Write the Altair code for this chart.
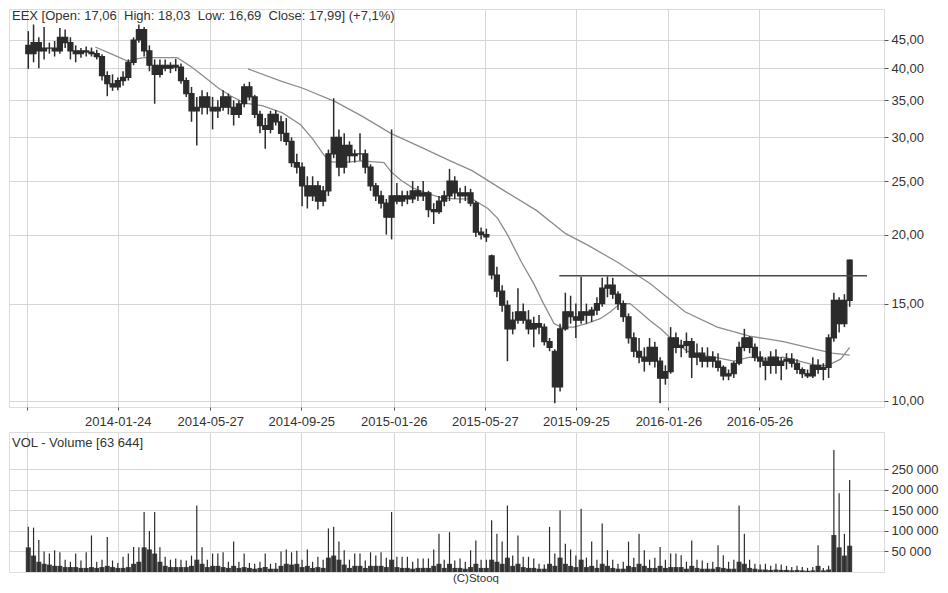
import altair as alt
import pandas as pd

FONT = "Liberation Sans"
TXT = "#333333"
GRID = "#d6d6d6"
INK = "#2b2b2b"
FS = 13

# ---------------- data (weekly bars) ----------------
first_week = "2013-09-27"

opens = [
    44.0, 42.5, 44.5, 43.0, 43.5, 43.5, 43.0, 45.5, 44.5, 43.0,
    42.5, 43.0, 42.8, 42.5, 42.0, 38.8, 37.5, 37.0, 38.0, 38.5,
    41.0, 45.0, 47.0, 43.0, 40.5, 39.0, 40.5, 40.0, 40.5, 40.2,
    38.0, 36.0, 33.5, 34.0, 35.5, 34.0, 33.5, 34.0, 35.5, 34.0,
    33.0, 34.5, 37.0, 35.5, 33.0, 31.5, 31.0, 33.0, 32.0, 30.5,
    29.5, 27.0, 26.5, 24.5, 23.5, 24.5, 23.0, 24.0, 28.0, 30.0,
    26.5, 29.0, 27.8, 28.0, 28.0, 26.5, 24.5, 23.5, 22.8, 21.5,
    23.5, 23.0, 23.5, 23.2, 24.0, 23.5, 23.8, 22.2, 22.0, 23.0,
    23.5, 25.0, 23.8, 23.5, 23.8, 22.8, 20.2, 20.0, 18.3, 16.9,
    15.8, 14.9, 13.5, 14.0, 14.5, 14.0, 13.5, 13.8, 13.6, 12.8,
    12.3, 10.6, 13.5, 14.5, 14.2, 14.0, 14.5, 14.3, 14.6, 15.0,
    16.0, 16.2, 15.6, 15.0, 14.2, 13.0, 12.3, 12.0, 11.8, 12.5,
    11.8, 11.0, 11.3, 13.0, 12.5, 12.6, 12.8, 12.0, 12.2, 11.8,
    12.0, 11.8, 11.5, 11.1, 11.2, 11.7, 12.5, 13.0, 12.5, 12.0,
    11.8, 11.6, 12.0, 11.6, 11.8, 11.9, 11.7, 11.4, 11.2, 11.1,
    11.6, 11.4, 11.5, 13.0, 15.2, 13.8, 15.2,
]
highs = [
    46.7, 48.0, 45.5, 47.5, 44.5, 44.8, 47.3, 47.0, 45.5, 44.0,
    43.5, 43.8, 43.6, 43.2, 42.4, 39.5, 39.0, 38.5, 39.5, 41.5,
    45.5, 48.0, 47.5, 44.0, 41.5, 41.5, 41.5, 41.0, 41.6, 40.8,
    38.5, 37.0, 35.5, 36.5, 36.2, 35.5, 35.0, 36.5, 36.0, 35.0,
    35.0, 37.5, 37.8, 35.8, 33.5, 32.5, 33.5, 33.6, 32.8, 32.5,
    30.0, 28.0, 27.0, 25.5, 25.5, 25.0, 24.5, 28.5, 35.3, 31.0,
    30.5, 29.5, 28.5, 30.5, 28.5, 26.8, 24.8, 24.0, 23.2, 31.0,
    24.8, 24.0, 24.0, 25.0, 24.5, 25.0, 24.0, 22.8, 23.5, 24.0,
    26.3, 25.5, 24.3, 24.5, 24.2, 23.0, 20.6, 20.5, 18.4, 17.5,
    16.2, 15.2, 14.5, 16.0, 15.0, 14.6, 14.2, 14.3, 13.8, 13.0,
    12.4, 13.8, 15.7, 15.5, 15.0, 16.8, 15.0, 14.8, 15.4, 16.7,
    16.8, 16.7, 15.8, 15.2, 14.4, 13.3, 13.0, 12.5, 13.0, 12.8,
    12.0, 11.6, 13.6, 13.3, 12.9, 13.3, 13.0, 12.7, 12.5, 12.5,
    12.3, 12.2, 11.6, 11.4, 11.8, 12.8, 13.5, 13.1, 12.7, 12.3,
    12.0, 12.3, 12.4, 12.0, 12.2, 12.2, 11.9, 11.5, 11.4, 12.0,
    11.9, 11.7, 13.2, 15.7, 15.4, 15.6, 18.03,
]
lows = [
    39.9, 41.0, 40.0, 41.5, 42.5, 42.0, 42.5, 43.5, 41.5, 41.0,
    41.8, 42.0, 42.0, 41.5, 38.0, 35.6, 36.4, 36.5, 37.2, 38.0,
    40.5, 44.5, 42.0, 39.5, 34.5, 38.5, 39.5, 39.2, 39.5, 37.5,
    35.5, 32.0, 29.0, 33.0, 33.0, 31.0, 32.5, 33.5, 33.0, 31.5,
    32.5, 34.0, 35.0, 32.5, 30.5, 28.6, 30.5, 31.5, 29.5, 29.0,
    26.5, 25.8, 22.5, 22.3, 23.0, 22.2, 22.5, 23.5, 27.5, 25.5,
    25.8, 27.0, 27.0, 27.2, 25.8, 24.0, 23.0, 22.3, 20.0, 19.6,
    22.7, 22.5, 22.7, 22.8, 23.0, 23.0, 21.5, 20.9, 21.8, 22.5,
    23.0, 23.2, 22.8, 23.0, 22.5, 19.8, 19.6, 19.4, 16.6, 15.4,
    14.5, 11.8, 13.2, 13.8, 13.8, 13.2, 12.5, 13.2, 12.6, 12.3,
    9.9, 10.4, 13.4, 13.8, 13.0, 13.8, 13.8, 13.9, 14.3, 14.8,
    15.4, 15.3, 14.6, 13.9, 12.7, 12.0, 11.7, 11.3, 11.6, 11.5,
    9.9, 10.7, 11.2, 12.2, 12.0, 12.2, 11.0, 11.6, 11.5, 11.5,
    11.5, 11.3, 10.9, 10.9, 11.0, 11.6, 12.3, 12.2, 11.8, 11.5,
    10.9, 11.2, 11.2, 10.9, 11.4, 11.5, 11.2, 11.0, 11.0, 11.0,
    11.2, 10.9, 11.0, 12.8, 13.3, 13.6, 14.8,
]
closes = [
    42.5, 44.5, 43.0, 43.5, 43.5, 43.0, 45.5, 44.5, 43.0, 42.5,
    43.0, 42.8, 42.5, 42.0, 38.8, 37.5, 37.0, 38.0, 38.5, 41.0,
    45.0, 47.0, 43.0, 40.5, 39.0, 40.5, 40.0, 40.5, 40.2, 38.0,
    36.0, 33.5, 34.0, 35.5, 34.0, 33.5, 34.0, 35.5, 34.0, 33.0,
    34.5, 37.0, 35.5, 33.0, 31.5, 31.0, 33.0, 32.0, 30.5, 29.5,
    27.0, 26.5, 24.5, 23.5, 24.5, 23.0, 24.0, 28.0, 30.0, 26.5,
    29.0, 27.8, 28.0, 28.0, 26.5, 24.5, 23.5, 22.8, 21.5, 23.5,
    23.0, 23.5, 23.2, 24.0, 23.5, 23.8, 22.2, 22.0, 23.0, 23.5,
    25.0, 23.8, 23.5, 23.8, 22.8, 20.2, 20.0, 19.8, 16.9, 15.8,
    14.9, 13.5, 14.0, 14.5, 14.0, 13.5, 13.8, 13.6, 12.8, 12.5,
    10.6, 13.5, 14.5, 14.2, 14.0, 14.5, 14.3, 14.6, 15.0, 16.0,
    16.2, 15.6, 15.0, 14.2, 13.0, 12.3, 12.0, 11.8, 12.5, 11.8,
    11.0, 11.3, 13.0, 12.5, 12.6, 12.8, 12.0, 12.2, 11.8, 12.0,
    11.8, 11.5, 11.1, 11.2, 11.7, 12.5, 13.0, 12.5, 12.0, 11.8,
    11.6, 12.0, 11.6, 11.8, 11.9, 11.7, 11.4, 11.2, 11.1, 11.6,
    11.4, 11.5, 13.0, 15.2, 13.8, 15.2, 17.99,
]

# weekly volume, thousands of shares: highest session of the week and typical session
vol_peak_k = [
    110, 108, 78, 50, 45, 53, 48, 30, 25, 45,
    28, 48, 89, 25, 30, 85, 28, 22, 37, 45,
    61, 60, 146, 100, 146, 60, 37, 30, 33, 30,
    28, 40, 162, 60, 30, 45, 45, 48, 25, 74,
    25, 45, 22, 20, 25, 45, 20, 22, 50, 55,
    48, 52, 30, 55, 25, 37, 30, 106, 110, 74,
    53, 30, 45, 45, 28, 48, 40, 48, 35, 146,
    37, 37, 37, 25, 33, 33, 33, 55, 93, 30,
    97, 28, 33, 25, 53, 77, 30, 30, 126, 93,
    74, 162, 40, 89, 37, 37, 33, 20, 18, 110,
    45, 150, 69, 55, 40, 154, 35, 74, 30, 118,
    53, 30, 20, 25, 74, 35, 93, 53, 30, 35,
    61, 30, 45, 45, 41, 25, 77, 30, 28, 22,
    25, 65, 41, 25, 30, 162, 93, 30, 20, 18,
    20, 15, 20, 18, 15, 12, 15, 12, 10, 12,
    65, 10, 15, 297, 192, 93, 224,
]
vol_base_k = [
    60, 40, 25, 20, 18, 15, 15, 12, 12, 12,
    10, 10, 12, 10, 12, 15, 12, 10, 10, 12,
    20, 25, 60, 55, 45, 25, 15, 12, 12, 12,
    12, 15, 30, 20, 12, 15, 15, 12, 10, 15,
    10, 12, 10, 8, 10, 12, 8, 8, 15, 20,
    18, 20, 12, 15, 10, 12, 10, 35, 40, 30,
    18, 10, 15, 15, 10, 15, 15, 15, 12, 30,
    12, 10, 10, 8, 10, 10, 10, 15, 20, 10,
    20, 10, 10, 8, 12, 20, 10, 10, 30, 25,
    20, 35, 15, 20, 12, 10, 10, 8, 8, 20,
    15, 35, 20, 15, 12, 30, 12, 15, 10, 20,
    15, 10, 8, 8, 15, 12, 20, 15, 10, 10,
    15, 10, 12, 12, 12, 8, 15, 10, 8, 8,
    8, 12, 10, 8, 8, 25, 20, 10, 8, 6,
    6, 5, 6, 5, 5, 4, 5, 4, 3, 4,
    15, 4, 6, 90, 60, 40, 64,
]

ma_short_dates = [
    "2013-12-25", "2014-01-13", "2014-02-06", "2014-02-18", "2014-02-28", "2014-04-13",
    "2014-05-02", "2014-05-18", "2014-06-07", "2014-06-24", "2014-07-12", "2014-08-05",
    "2014-08-31", "2014-09-24", "2014-10-10", "2014-10-23", "2014-11-01", "2014-11-18",
    "2014-12-14", "2015-01-13", "2015-01-22", "2015-02-04", "2015-02-20", "2015-03-13",
    "2015-03-31", "2015-04-17", "2015-05-10", "2015-05-31", "2015-06-13", "2015-06-26",
    "2015-07-14", "2015-07-31", "2015-08-13", "2015-08-27", "2015-09-05", "2015-09-22",
    "2015-10-09", "2015-10-28", "2015-11-10", "2015-11-23", "2015-12-06", "2015-12-19",
    "2016-01-01", "2016-01-16", "2016-02-03", "2016-02-20", "2016-03-08", "2016-03-27",
    "2016-04-22", "2016-05-13", "2016-06-04", "2016-06-27", "2016-07-18", "2016-08-09",
    "2016-08-25", "2016-09-11", "2016-09-23",
]
ma_short_vals = [
    43.7, 42.6, 41.2, 41.6, 41.8, 41.8,
    40.2, 38.7, 36.8, 35.6, 34.6, 34.2,
    33.2, 31.6, 29.8, 28.1, 27.1, 27.0,
    27.2, 27.0, 26.0, 25.1, 24.3, 23.7,
    23.3, 23.2, 23.2, 22.3, 21.4, 20.0,
    17.9, 16.3, 15.0, 13.8, 13.6, 13.6,
    13.8, 14.1, 14.5, 15.0, 15.0, 14.5,
    14.0, 13.5, 12.8, 12.3, 12.1, 12.0,
    11.8, 12.0, 11.9, 12.0, 11.8, 11.6,
    11.6, 11.9, 12.5,
]
ma_long_dates = [
    "2014-07-16", "2014-08-29", "2014-09-27", "2014-11-09", "2014-12-14", "2015-01-22",
    "2015-03-05", "2015-04-11", "2015-05-10", "2015-06-22", "2015-08-04", "2015-09-11",
    "2015-10-12", "2015-11-20", "2016-01-02", "2016-02-17", "2016-03-31", "2016-05-13",
    "2016-06-27", "2016-08-09", "2016-08-31", "2016-09-23",
]
ma_long_vals = [
    39.9, 37.9, 36.8, 34.8, 32.8, 30.5,
    28.7, 27.2, 26.1, 24.0, 22.1, 20.1,
    19.1, 17.8, 16.3, 14.5, 13.6, 13.1,
    12.8, 12.4, 12.2, 12.1,
]

level_value = 16.85
level_start = "2015-09-03"
level_end = "2016-10-16"

title_text = "EEX [Open: 17,06\u00a0 High: 18,03\u00a0 Low: 16,69\u00a0 Close: 17,99] (+7,1%)"
vol_text = "VOL - Volume [63 644]"
credit_text = "(C)Stooq"

x_tick_dates = ["2013-09-25", "2014-01-24", "2014-05-27", "2014-09-25", "2015-01-26",
                "2015-05-27", "2015-09-25", "2016-01-26", "2016-05-26"]
price_ticks = [10, 15, 20, 25, 30, 35, 40, 45]
vol_ticks = [50000, 100000, 150000, 200000, 250000]

# ---------------- tables ----------------
dates = pd.date_range(first_week, periods=len(closes), freq="7D").strftime("%Y-%m-%d").tolist()
ohlc = pd.DataFrame({"date": dates, "open": opens, "high": highs, "low": lows, "close": closes})
ohlc["body_lo"] = ohlc[["open", "close"]].min(axis=1)
ohlc["body_hi"] = ohlc[["open", "close"]].max(axis=1)

vol = pd.DataFrame({"date": dates,
                    "peak": [v * 1000 for v in vol_peak_k],
                    "base": [v * 1000 for v in vol_base_k]})
vol["zero"] = 0

ma_s_df = pd.DataFrame({"date": ma_short_dates, "value": ma_short_vals})
ma_l_df = pd.DataFrame({"date": ma_long_dates, "value": ma_long_vals})
lvl_df = pd.DataFrame({"start": [level_start], "end": [level_end], "value": [level_value]})


def dt(s):
    y, m, d = (int(p) for p in s.split("-"))
    return alt.DateTime(year=y, month=m, date=d, utc=True)


xscale = alt.Scale(type="utc", domain=[dt("2013-09-08"), dt("2016-11-01")])
x_label_expr = "utcFormat(datum.value, '%Y') == '2013' ? '' : utcFormat(datum.value, '%Y-%m-%d')"
x_vals = [dt(s) for s in x_tick_dates]

x_price_axis = alt.Axis(values=x_vals, labelExpr=x_label_expr, grid=True, gridColor=GRID,
                        domain=False, ticks=True, tickSize=3, tickColor="#555555",
                        labelFont=FONT, labelFontSize=FS, labelColor=TXT, labelPadding=5,
                        labelOverlap=False, labelFlush=False, tickCount=20, title=None)
x_vol_axis = alt.Axis(values=x_vals, labels=False, ticks=False, domain=False, grid=True,
                      gridColor=GRID, tickCount=20, title=None)

yscale = alt.Scale(type="log", domain=[9.75, 51.2], nice=False)
y_axis = alt.Axis(orient="right", values=price_ticks,
                  labelExpr="replace(format(datum.value, '.2f'), '.', ',')",
                  grid=True, gridColor=GRID, domain=False, tickSize=4, tickColor="#555555",
                  labelFont=FONT, labelFontSize=FS, labelColor=TXT, labelPadding=3,
                  labelOverlap=False, tickCount=20, title=None)

vscale = alt.Scale(domain=[0, 341000], nice=False, zero=False)
v_axis = alt.Axis(orient="right", values=vol_ticks,
                  labelExpr="replace(format(datum.value, ','), ',', ' ')",
                  grid=True, gridColor=GRID, domain=False, tickSize=4, tickColor="#555555",
                  labelFont=FONT, labelFontSize=FS, labelColor=TXT, labelPadding=3,
                  labelOverlap=False, tickCount=20, title=None)

# ---------------- price panel ----------------
wicks = alt.Chart(ohlc).mark_rule(color=INK, strokeWidth=1.5).encode(
    x=alt.X("date:T", scale=xscale, axis=x_price_axis, title=None),
    y=alt.Y("low:Q", scale=yscale, axis=y_axis, title=None),
    y2="high:Q",
)
bodies = alt.Chart(ohlc).mark_bar(width=5, color=INK, stroke=INK, strokeWidth=1.2).encode(
    x=alt.X("date:T", title=None), y=alt.Y("body_lo:Q", title=None), y2="body_hi:Q"
)
ma_long = alt.Chart(ma_l_df).mark_line(color="#8c8c8c", strokeWidth=1.3).encode(
    x=alt.X("date:T", title=None), y=alt.Y("value:Q", title=None)
)
ma_short = alt.Chart(ma_s_df).mark_line(color="#8c8c8c", strokeWidth=1.3).encode(
    x=alt.X("date:T", title=None), y=alt.Y("value:Q", title=None)
)
level = alt.Chart(lvl_df).mark_rule(color="#4a4a4a", strokeWidth=1.6).encode(
    x=alt.X("start:T", title=None), x2="end:T", y=alt.Y("value:Q", title=None)
)
title_mark = alt.Chart(pd.DataFrame({"t": [title_text]})).mark_text(
    align="left", baseline="middle", font=FONT, fontSize=FS, color=TXT
).encode(x=alt.value(3), y=alt.value(7), text="t:N")

price = alt.layer(ma_long, ma_short, wicks, bodies, level, title_mark).properties(width=875, height=398)

# ---------------- volume panel ----------------
vbars = alt.Chart(vol).mark_bar(width=5, color="#3c3c3c").encode(
    x=alt.X("date:T", scale=xscale, axis=x_vol_axis, title=None),
    y=alt.Y("base:Q", scale=vscale, axis=v_axis, title=None),
    y2="zero:Q",
)
vrules = alt.Chart(vol).mark_rule(color="#2b2b2b", strokeWidth=1.2).encode(
    x=alt.X("date:T", title=None), y=alt.Y("peak:Q", title=None), y2="zero:Q"
)
vol_label = alt.Chart(pd.DataFrame({"t": [vol_text]})).mark_text(
    align="left", baseline="middle", font=FONT, fontSize=FS, color=TXT
).encode(x=alt.value(3), y=alt.value(11), text="t:N")
credit = alt.Chart(pd.DataFrame({"t": [credit_text]})).mark_text(
    align="center", baseline="middle", font=FONT, fontSize=11.5, color=TXT
).encode(x=alt.value(467), y=alt.value(147), text="t:N")

volume = alt.layer(vbars, vrules, vol_label, credit).properties(width=875, height=140)

chart = alt.vconcat(price, volume, spacing=25, bounds="flush").properties(
    padding=0
).configure_view(
    stroke="#7d7d7d", strokeWidth=1.5
).configure(background="white")

chart.save("out.html", embed_options={"renderer": "svg", "actions": False})
